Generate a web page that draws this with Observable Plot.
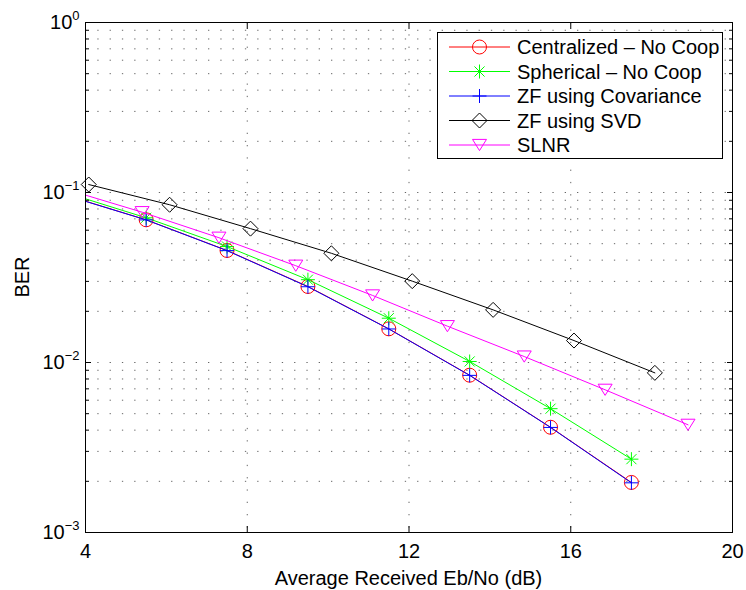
<!DOCTYPE html>
<html><head><meta charset="utf-8">
<script src="https://cdn.jsdelivr.net/npm/d3@7"></script>
<script src="https://cdn.jsdelivr.net/npm/@observablehq/plot@0.6"></script>
<style>
body{margin:0;background:#fff}
#chart{width:746px;height:590px}
svg{font-family:"Liberation Sans",Arial,Helvetica,sans-serif}
</style>
</head><body><div id="chart"></div>
<script>
// ---- data ----
const seriesNames = ["Centralized \u2013 No Coop","Spherical \u2013 No Coop","ZF using Covariance","ZF using SVD","SLNR"];
const xCentral   = [3.5,5.5,7.5,9.5,11.5,13.5,15.5,17.5];
const berCentral = [0.0967,0.0691,0.0456,0.0280,0.01578,0.00842,0.00416,0.00197];
const xSpherical   = [3.5,5.5,7.5,9.5,11.5,13.5,15.5,17.5];
const berSpherical = [0.1000,0.0710,0.0481,0.0307,0.01822,0.01014,0.00535,0.00270];
const xCov   = [3.5,5.5,7.5,9.5,11.5,13.5,15.5,17.5];
const berCov = [0.0965,0.0690,0.0455,0.0279,0.01575,0.00840,0.00415,0.00196];
const xSVD   = [4.08,6.08,8.08,10.08,12.08,14.08,16.08,18.08];
const berSVD = [0.1114,0.0847,0.0613,0.0439,0.0301,0.0204,0.01346,0.00869];
const xSLNR   = [3.45,5.4,7.3,9.2,11.1,12.95,14.85,16.85,18.9];
const berSLNR = [0.1057,0.0766,0.0542,0.0371,0.0248,0.01636,0.01084,0.00691,0.00430];
const xTicks = [4,8,12,16,20];
const yTicks = [1e-3,1e-2,1e-1,1];
const yTickLabels = ["10^-3","10^-2","10^-1","10^0"];
const xLabel = "Average Received Eb/No (dB)";
const yLabel = "BER";

// ---- symbols ----
function sym(drawFn){ return {draw(ctx,size){ drawFn(ctx, Math.sqrt(size/Math.PI)); }}; }
const symStar = sym((c,h)=>{ const d=h*0.72; c.moveTo(-h,0);c.lineTo(h,0);c.moveTo(0,-h);c.lineTo(0,h);c.moveTo(-d,-d);c.lineTo(d,d);c.moveTo(-d,d);c.lineTo(d,-d); });
const symPlus = sym((c,h)=>{ c.moveTo(-h,0);c.lineTo(h,0);c.moveTo(0,-h);c.lineTo(0,h); });
const symDiamond = sym((c,h)=>{ c.moveTo(0,-h);c.lineTo(h,0);c.lineTo(0,h);c.lineTo(-h,0);c.closePath(); });
const symTriDown = sym((c,h)=>{ c.moveTo(-h,-h*0.8);c.lineTo(h,-h*0.8);c.lineTo(0,h*0.8);c.closePath(); });
const symCircle = sym((c,h)=>{ c.moveTo(h,0); c.arc(0,0,h,0,2*Math.PI); });

const series = [
  {name:seriesNames[0], xs:xCentral, ys:berCentral, color:"#ff0000", symbol:symCircle, r:7},
  {name:seriesNames[1], xs:xSpherical, ys:berSpherical, color:"#00ff00", symbol:symStar, r:7},
  {name:seriesNames[2], xs:xCov, ys:berCov, color:"#0000ff", symbol:symPlus, r:7},
  {name:seriesNames[3], xs:xSVD, ys:berSVD, color:"#000000", symbol:symDiamond, r:7.5},
  {name:seriesNames[4], xs:xSLNR, ys:berSLNR, color:"#ff00ff", symbol:symTriDown, r:7}
];
series.forEach(s => s.rows = s.xs.map((x,i)=>({series:s.name, x, ber:s.ys[i]})));

const minorY = [];
for (let e=-3; e<0; e++) for (let m=2; m<=9; m++) minorY.push(m*Math.pow(10,e));
const gridY = minorY.concat([1e-2,1e-1]);

const FS = 20;
const gridStyle = {stroke:"#000", strokeOpacity:0.6, strokeWidth:1, strokeDasharray:"1.3,11"};

const marks = [
  Plot.ruleY(gridY, gridStyle),
  Plot.ruleX([8,12,16], gridStyle)
];
for (const s of series) {
  marks.push(Plot.line(s.rows, {x:"x", y:"ber", stroke:s.color, strokeWidth:1, clip:true}));
  marks.push(Plot.dot(s.rows.filter(d=>d.x>=4), {x:"x", y:"ber", stroke:s.color, fill:"none", strokeWidth:1, symbol:s.symbol, r:s.r}));
}
marks.push(
  Plot.frame({stroke:"#000", strokeWidth:1}),
  Plot.axisX({anchor:"bottom", ticks:xTicks, tickSize:-6, tickPadding:17, tickFormat:d=>String(d), label:null, fontSize:FS}),
  Plot.axisX({anchor:"top", ticks:xTicks, tickSize:-6, tickFormat:()=>"", label:null}),
  Plot.axisY({anchor:"left", ticks:yTicks, tickSize:-6, tickPadding:12, tickFormat:(d)=>yTickLabels[yTicks.indexOf(d)], label:null, fontSize:FS}),
  Plot.axisY({anchor:"left", ticks:minorY, tickSize:-4, tickFormat:()=>"", label:null}),
  Plot.axisY({anchor:"right", ticks:yTicks, tickSize:-6, tickFormat:()=>"", label:null}),
  Plot.axisY({anchor:"right", ticks:minorY, tickSize:-4, tickFormat:()=>"", label:null})
);

const chart = Plot.plot({
  width:746, height:590,
  marginLeft:85, marginRight:14, marginTop:22, marginBottom:58,
  style:{background:"#fff", fontFamily:'"Liberation Sans",Arial,Helvetica,sans-serif', fontSize:FS+"px", color:"#000"},
  x:{domain:[4,20], axis:null},
  y:{type:"log", domain:[1e-3,1], axis:null},
  marks
});
document.getElementById("chart").appendChild(chart);

const svg = d3.select(chart);
// superscript exponents on y tick labels
svg.selectAll('g[aria-label="y-axis tick label"] text').each(function(){
  const t = this.textContent;
  const m = /^10\^(-?\d+)$/.exec(t);
  if (!m) return;
  const el = d3.select(this);
  el.text("10");
  el.append("tspan").attr("dy","-9").attr("font-size","13px").text(m[1].replace("-","\u2212"));
});
// axis titles
svg.append("text").attr("x",408.5).attr("y",585).attr("text-anchor","middle")
  .attr("font-size",FS).attr("fill","#000").text(xLabel);
svg.append("text").attr("transform","translate(29,277) rotate(-90)").attr("text-anchor","middle")
  .attr("font-size",FS).attr("fill","#000").text(yLabel);

// legend
const lg = svg.append("g").attr("aria-label","legend");
lg.append("rect").attr("x",437.5).attr("y",32.5).attr("width",285).attr("height",126)
  .attr("fill","#fff").attr("stroke","#000").attr("stroke-width",1);
series.forEach((s,i)=>{
  const y = 47 + i*24.5;
  lg.append("line").attr("x1",449).attr("x2",510).attr("y1",y).attr("y2",y).attr("stroke",s.color).attr("stroke-width",1);
  lg.append("path").attr("transform",`translate(479.5,${y})`)
    .attr("d", d3.symbol(s.symbol, s.r*s.r*Math.PI)())
    .attr("fill","none").attr("stroke",s.color).attr("stroke-width",1);
  lg.append("text").attr("x",517).attr("y",y).attr("dy","0.35em").attr("text-anchor","start")
    .attr("font-size",FS).attr("fill","#000").text(s.name);
});
</script>
</body></html>
